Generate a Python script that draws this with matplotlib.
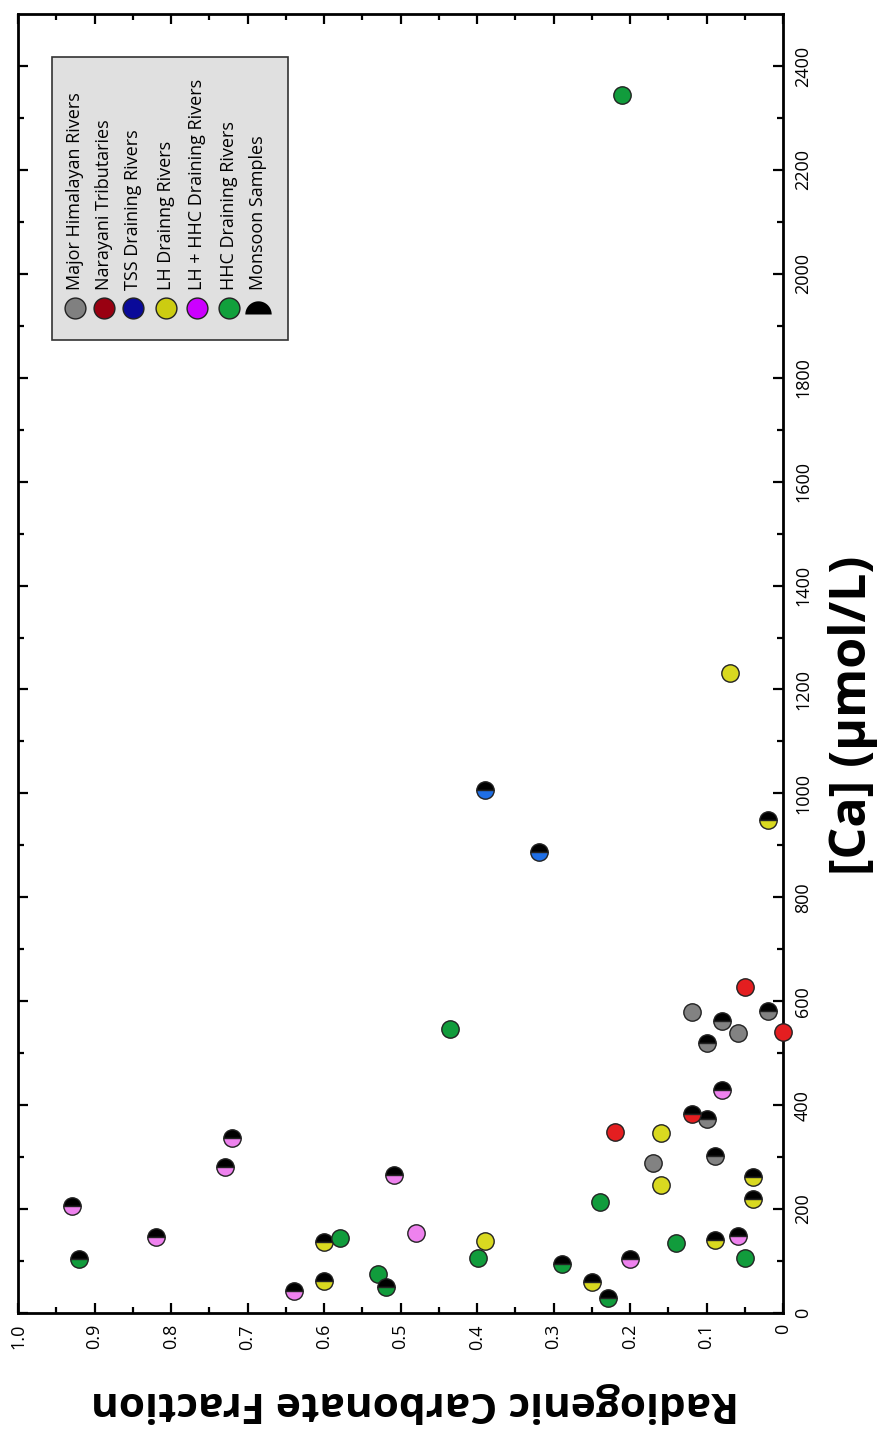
import matplotlib
matplotlib.use("Agg")
import matplotlib.pyplot as plt
import numpy as np
from matplotlib.patches import Rectangle
from matplotlib.path import Path

plt.rcParams['font.family'] = ['Open Sans', 'DejaVu Sans']

# --- data: (radiogenic carbonate fraction, [Ca] umol/L) ---
# dry season = full circles, monsoon = half black circles
major_frac = [0.119, 0.059, 0.170]
major_ca = [579, 539, 289]
major_m_frac = [0.020, 0.080, 0.099, 0.099, 0.089]
major_m_ca = [581, 562, 520, 373, 302]

nara_frac = [0.050, 0.0, 0.220]
nara_ca = [627, 541, 348]
nara_m_frac = [0.119]
nara_m_ca = [383]

tss_m_frac = [0.389, 0.319]
tss_m_ca = [1006, 887]

lh_frac = [0.069, 0.160, 0.160, 0.389]
lh_ca = [1232, 346, 246, 139]
lh_m_frac = [0.020, 0.039, 0.039, 0.089, 0.250, 0.600, 0.600]
lh_m_ca = [949, 262, 219, 140, 60, 137, 62]

lhhhc_frac = [0.480]
lhhhc_ca = [154]
lhhhc_m_frac = [0.080, 0.059, 0.200, 0.508, 0.639, 0.720, 0.729, 0.820, 0.929]
lhhhc_m_ca = [429, 148, 104, 266, 42, 337, 281, 146, 206]

hhc_frac = [0.210, 0.435, 0.239, 0.140, 0.050, 0.399, 0.529, 0.579]
hhc_ca = [2344, 547, 214, 135, 106, 106, 75, 144]
hhc_m_frac = [0.289, 0.229, 0.519, 0.920]
hhc_m_ca = [94, 29, 50, 104]

groups = [
    (major_frac, major_ca, major_m_frac, major_m_ca, '#828282'),
    (nara_frac, nara_ca, nara_m_frac, nara_m_ca, '#e41e20'),
    ([], [], tss_m_frac, tss_m_ca, '#1f6fe6'),
    (lh_frac, lh_ca, lh_m_frac, lh_m_ca, '#d9d920'),
    (lhhhc_frac, lhhhc_ca, lhhhc_m_frac, lhhhc_m_ca, '#ee82ee'),
    (hhc_frac, hhc_ca, hhc_m_frac, hhc_m_ca, '#119c3c'),
]

legend_labels = ['Major Himalayan Rivers', 'Narayani Tributaries',
                 'TSS Draining Rivers', 'LH Drainng Rivers',
                 'LH + HHC Draining Rivers', 'HHC Draining Rivers',
                 'Monsoon Samples']
legend_colors = ['#808080', '#990011', '#0a0a99', '#cccc11', '#cc00ff',
                 '#11a03c', 'black']

frac_ticks = np.arange(0, 1.01, 0.1)
frac_labels = ['0', '0.1', '0.2', '0.3', '0.4', '0.5', '0.6', '0.7', '0.8',
               '0.9', '1.0']
ca_ticks = np.arange(0, 2401, 200)

fig = plt.figure(figsize=(8.81, 14.30), dpi=100)
ax = fig.add_axes([18 / 881, 117 / 1430, 765 / 881, 1299 / 1430])

for f, c, fm, cm, col in groups:
    ax.plot(f, c, 'o', ms=12.5, mfc=col, mec='#222222', mew=1,
            clip_on=False, zorder=3)
    ax.plot(fm, cm, 'o', ms=12.5, fillstyle='top', mfc='black',
            markerfacecoloralt=col, mec='#222222', mew=1,
            clip_on=False, zorder=3)

ax.set_xlim(1.0, 0.0)
ax.set_ylim(0, 2500)
ax.set_xticks(frac_ticks)
ax.set_xticklabels(frac_labels, rotation=90)
ax.set_xticks(np.arange(0.05, 1.0, 0.1), minor=True)
ax.set_yticks(ca_ticks)
ax.set_yticklabels([str(int(t)) for t in ca_ticks], rotation=90, va='center')
ax.set_yticks(np.arange(100, 2500, 200), minor=True)
ax.tick_params(which='both', direction='in', top=True, bottom=True,
               left=True, right=True, labelleft=False, labelright=True,
               width=1.6, labelsize=13, pad=8)
ax.tick_params(which='major', length=7)
ax.tick_params(which='minor', length=4)
for s in ax.spines.values():
    s.set_linewidth(2)

fig.text(415 / 881, 1 - 1403 / 1430, 'Radiogenic Carbonate Fraction',
         rotation=180, ha='center', va='center', fontsize=30.5,
         fontweight='bold')
fig.text(853 / 881, 1 - 715 / 1430, '[Ca] (µmol/L)', rotation=90,
         ha='center', va='center', fontsize=36, fontweight='bold')

# legend box drawn by hand (text is rotated)
fig.patches.append(Rectangle((52 / 881, 1 - 340 / 1430), 236 / 881,
                             283 / 1430, transform=fig.transFigure,
                             facecolor='#e0e0e0', edgecolor='#333333',
                             lw=1.2, zorder=1))
half = np.linspace(0, np.pi, 30)
dome = Path(np.column_stack([np.cos(half), np.sin(half)]))
xs = [75, 104, 133, 166, 197, 229, 258]
for x, lab, col in zip(xs, legend_labels, legend_colors):
    fx = x / 881
    fig.text(fx, 1 - 290 / 1430, lab, rotation=90, ha='center',
             va='bottom', fontsize=13, zorder=3)
    if col == 'black':
        fig.lines.append(plt.Line2D([fx], [1 - 314 / 1430], marker=dome,
                                    ms=19, color='black', mec='none',
                                    transform=fig.transFigure, zorder=3))
    else:
        fig.lines.append(plt.Line2D([fx], [1 - 308 / 1430], marker='o',
                                    ms=15, mfc=col, mec='#222222', mew=1,
                                    transform=fig.transFigure, zorder=3))

fig.savefig('out.png', dpi=100)
